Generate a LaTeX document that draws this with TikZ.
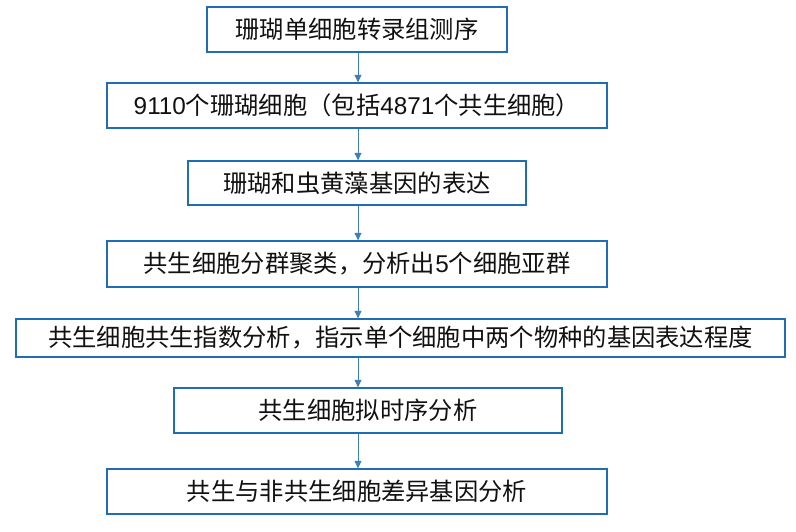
\documentclass[tikz,border=0pt]{standalone}
\usepackage{fontspec}
\setmainfont{Noto Sans CJK SC}
\newfontfamily\lat{Liberation Sans}
\usetikzlibrary{arrows.meta}
\definecolor{boxblue}{HTML}{1F6DB5}
\definecolor{arrblue}{HTML}{3F7FB5}
\definecolor{txt}{HTML}{111111}
\begin{document}
\begin{tikzpicture}[x=1pt,y=-1pt,
  stepbox/.style={draw=boxblue,line width=1.3pt,text=txt,inner sep=0pt,
    font=\fontsize{24.3}{29}\selectfont,anchor=center},
  arr/.style={draw=arrblue,line width=1pt,-{Triangle[length=7.5pt,width=7pt]}}]
\useasboundingbox (0,0) rectangle (796,531);
\node[stepbox,minimum width=300pt,minimum height=45pt] (b1) at (357,29.5) {珊瑚单细胞转录组测序};
\node[stepbox,minimum width=500pt,minimum height=45pt] (b2) at (357,105.5) {{\lat 9110}个珊瑚细胞（包括{\lat 4871}个共生细胞）};
\node[stepbox,minimum width=338pt,minimum height=44pt] (b3) at (357,183) {珊瑚和虫黄藻基因的表达};
\node[stepbox,minimum width=500pt,minimum height=46pt] (b4) at (357,264) {共生细胞分群聚类，分析出{\lat 5}个细胞亚群};
\node[stepbox,minimum width=769pt,minimum height=38pt] (b5) at (400.5,338) {共生细胞共生指数分析，指示单个细胞中两个物种的基因表达程度};
\node[stepbox,minimum width=388pt,minimum height=45pt] (b6) at (368,410.5) {共生细胞拟时序分析};
\node[stepbox,minimum width=500pt,minimum height=45pt] (b7) at (357,491.5) {共生与非共生细胞差异基因分析};
\coordinate (ax) at (358,0);
\draw[arr] (b1.south -| ax) -- (b2.north -| ax);
\draw[arr] (b2.south -| ax) -- (b3.north -| ax);
\draw[arr] (b3.south -| ax) -- (b4.north -| ax);
\draw[arr] (b4.south -| ax) -- (b5.north -| ax);
\draw[arr] (b5.south -| ax) -- (b6.north -| ax);
\draw[arr] (b6.south -| ax) -- (b7.north -| ax);
\end{tikzpicture}
\end{document}
